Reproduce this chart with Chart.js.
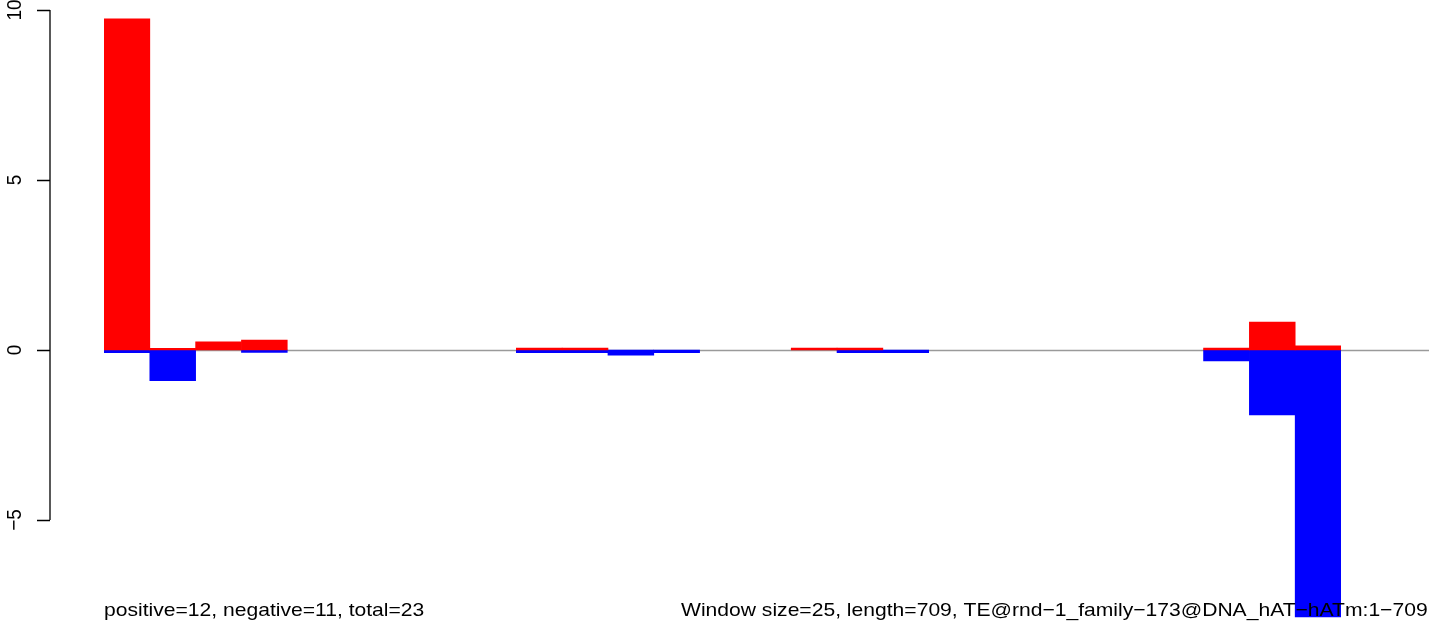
<!DOCTYPE html>
<html lang="en">
<head>
  <meta charset="UTF-8">
  <title>Window bars</title>
  <script src="https://cdn.jsdelivr.net/npm/chart.js"></script>
  <style>
    html, body { margin: 0; padding: 0; background: #fff; }
    #myChart { display: block; }
  </style>
</head>
<body>
  <canvas id="myChart" width="1429" height="625"></canvas>
  <script>
    // windows along the TE (window size 25)
    const windows = ["1","2","3","4","5","6","7","8","9","10","11","12","13","14",
      "15","16","17","18","19","20","21","22","23","24","25","26","27"];
    const positive = [9.74, 0.05, 0.24, 0.29, 0, 0, 0, 0, 0, 0.06, 0.06, 0, 0, 0,
      0, 0.06, 0.06, 0, 0, 0, 0, 0, 0, 0, 0.06, 0.82, 0.12];
    const negative = [-0.08, -0.90, 0, -0.07, 0, 0, 0, 0, 0, -0.08, -0.08, -0.15, -0.08, 0,
      0, 0, -0.08, -0.08, 0, 0, 0, 0, 0, 0, -0.32, -1.91, -7.85];
    const yTicks = [-5, 0, 5, 10];
    const leftText = "positive=12, negative=11, total=23";
    const rightText = "Window size=25, length=709, TE@rnd\u22121_family\u2212173@DNA_hAT\u2212hATm:1\u2212709";

    const FONT = '19px "Liberation Sans", Arial, sans-serif';
    const SX = 1.11; // picture is stretched sideways a little

    // empty windows get no bar at all
    const noZero = arr => arr.map(v => v === 0 ? null : v);

    const rAxis = {
      id: 'rAxis',
      beforeDatasetsDraw(chart) {
        const { ctx, chartArea, scales: { y } } = chart;
        const y0 = Math.round(y.getPixelForValue(0)) + 0.5;
        ctx.save();
        ctx.strokeStyle = '#9a9a9a';
        ctx.lineWidth = 1.5;
        ctx.beginPath();
        ctx.moveTo(chartArea.left, y0);
        ctx.lineTo(chart.width, y0);
        ctx.stroke();
        ctx.restore();
      },
      afterDraw(chart) {
        const { ctx, chartArea, scales: { y } } = chart;
        const ax = chartArea.left - 54;
        ctx.save();
        ctx.strokeStyle = '#000';
        ctx.lineWidth = 1.3;
        ctx.beginPath();
        ctx.moveTo(ax, y.getPixelForValue(yTicks[yTicks.length - 1]));
        ctx.lineTo(ax, y.getPixelForValue(yTicks[0]));
        yTicks.forEach(t => {
          const py = Math.round(y.getPixelForValue(t)) + 0.5;
          ctx.moveTo(ax - 13, py);
          ctx.lineTo(ax, py);
        });
        ctx.stroke();

        ctx.fillStyle = '#000';
        ctx.font = FONT;
        ctx.textAlign = 'center';
        ctx.textBaseline = 'alphabetic';
        yTicks.forEach(t => {
          ctx.save();
          ctx.translate(ax - 29, y.getPixelForValue(t));
          ctx.scale(SX, 1);
          ctx.rotate(-Math.PI / 2);
          ctx.fillText(t < 0 ? '\u2212' + Math.abs(t) : String(t), 0, 0);
          ctx.restore();
        });

        ctx.textAlign = 'left';
        ctx.save();
        ctx.translate(chartArea.left, 616);
        ctx.scale(SX, 1);
        ctx.fillText(leftText, 0, 0);
        ctx.restore();
        ctx.save();
        ctx.translate(chartArea.left + 577, 616);
        ctx.scale(SX, 1);
        ctx.fillText(rightText, 0, 0);
        ctx.restore();
        ctx.restore();
      }
    };

    const ctx = document.getElementById('myChart');
    const mychart = new Chart(ctx, {
      type: 'bar',
      data: {
        labels: windows,
        datasets: [{
          data: noZero(positive),
          backgroundColor: '#ff0000',
          borderWidth: 0,
          barPercentage: 1,
          categoryPercentage: 1,
          stack: 's'
        }, {
          data: noZero(negative),
          backgroundColor: '#0000ff',
          borderWidth: 0,
          barPercentage: 1,
          categoryPercentage: 1,
          stack: 's'
        }]
      },
      options: {
        responsive: false,
        animation: false,
        layout: { padding: { left: 104, right: 88, top: 0, bottom: 0 } },
        scales: {
          x: { display: false, stacked: true, grid: { display: false } },
          y: { display: false, stacked: true, min: -8.088, max: 10.294, grid: { display: false } }
        },
        plugins: {
          legend: { display: false },
          tooltip: { enabled: false }
        }
      },
      plugins: [rAxis]
    });
  </script>
</body>
</html>
